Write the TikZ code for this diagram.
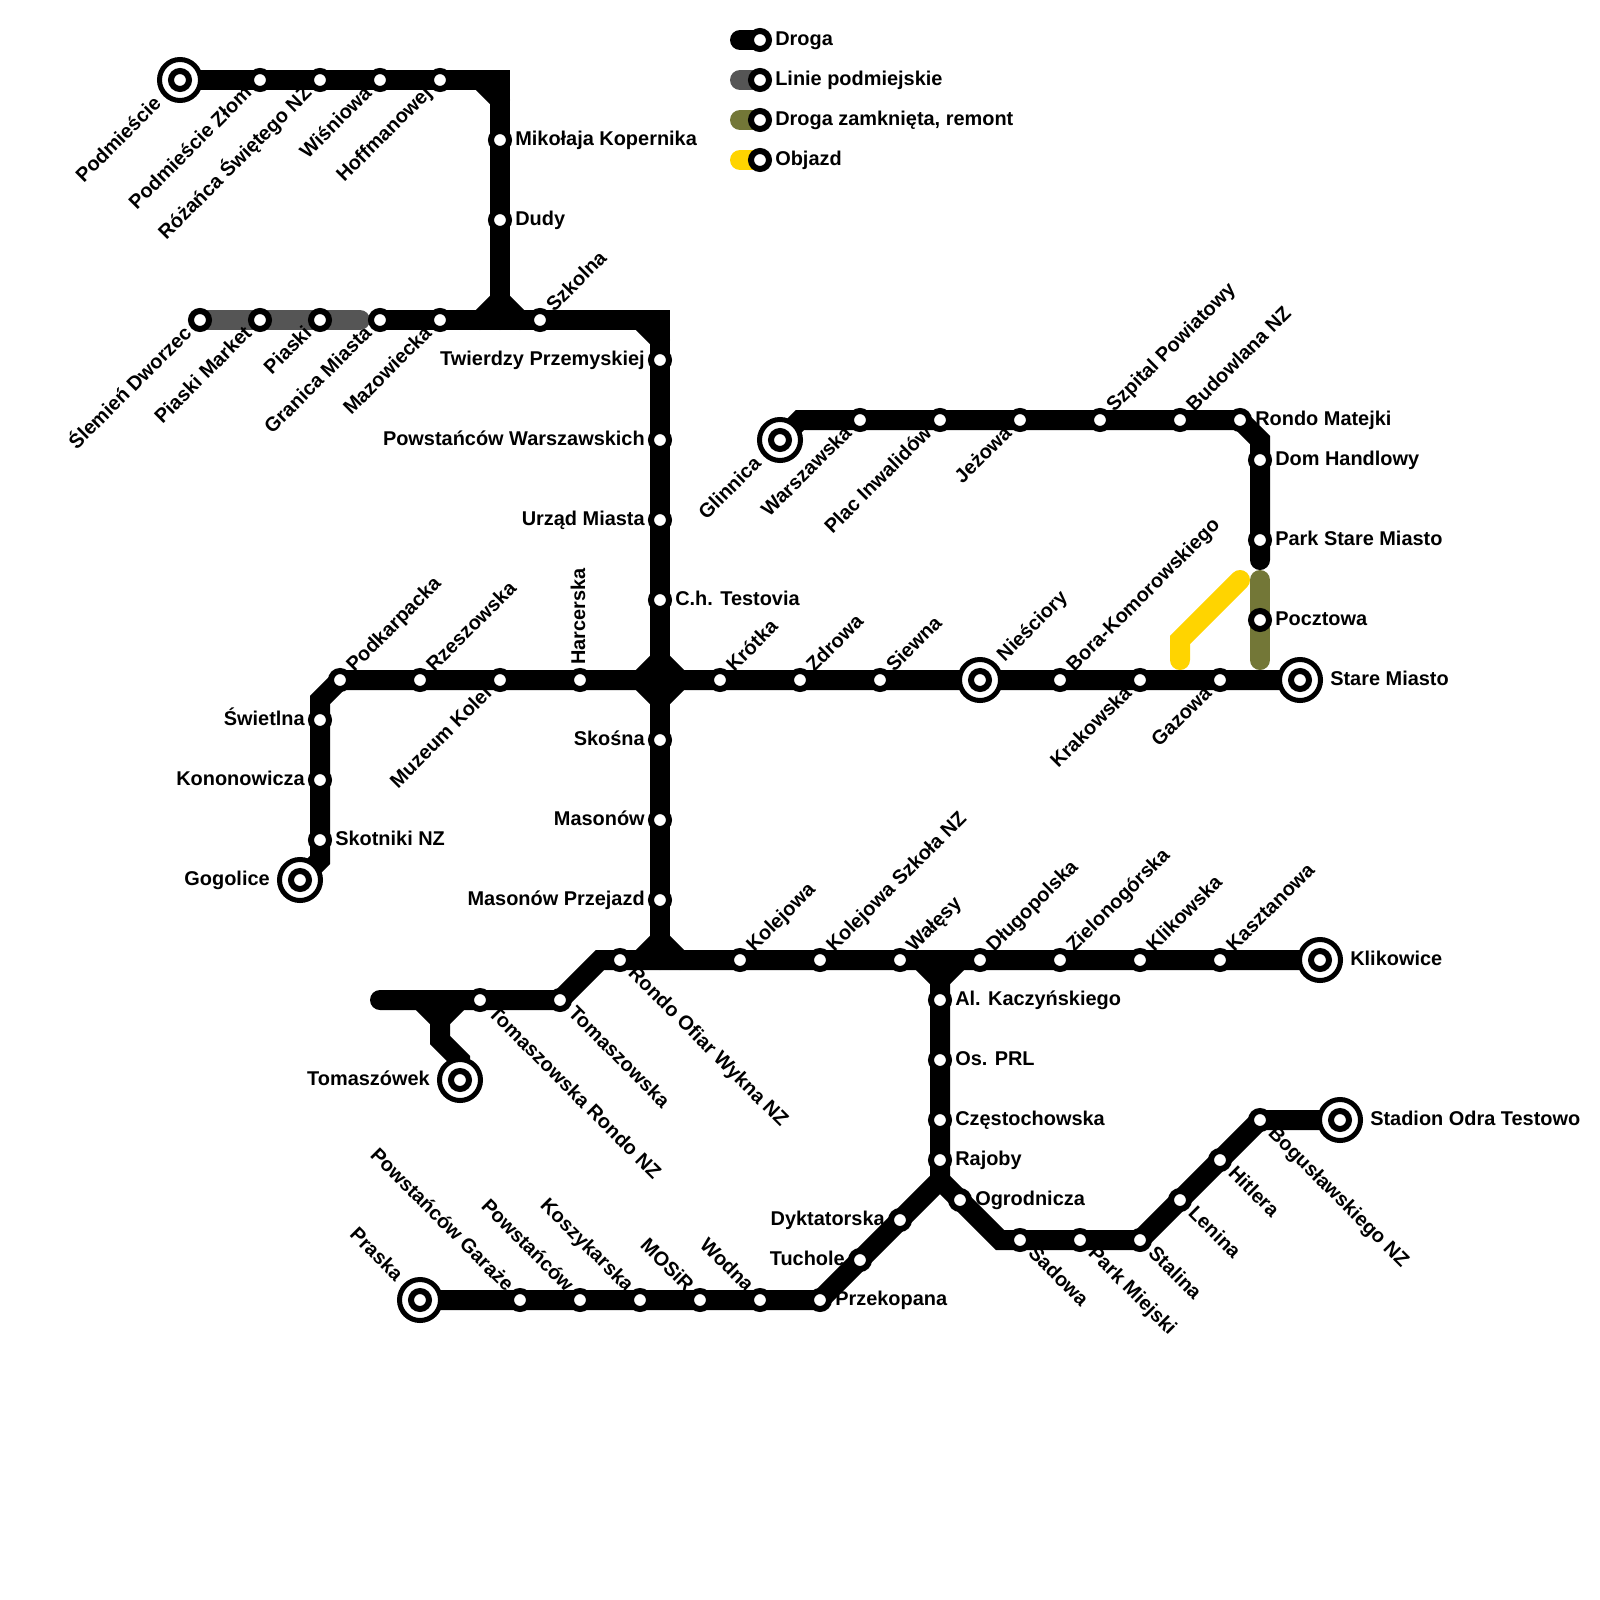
\documentclass[tikz,border=0pt]{standalone}
\usepackage{xcolor}
\usepackage{fontspec}
\setmainfont{Liberation Sans}
\usetikzlibrary{backgrounds}
\definecolor{mygrey}{RGB}{85,85,85}
\definecolor{myolive}{RGB}{115,119,55}
\definecolor{myyellow}{RGB}{255,212,0}
\tikzset{
  stop/.style={circle, draw=black, fill=white, line width=0.15cm,
    minimum size=0.45cm, inner sep=0pt, outer sep=0pt},
  hub/.style={circle, draw=black, fill=white, line width=0.125cm,
    minimum size=1.025cm, inner sep=0pt, outer sep=0pt, label={[stop]center:}},
  road/.style={line width=0.5cm, line cap=round, line join=miter, color=black},
  greyroad/.style={road, color=mygrey},
  oliveroad/.style={road, color=myolive},
  yellowroad/.style={road, color=myyellow},
  lbl/.style={font=\bfseries\fontsize{14.17pt}{16pt}\selectfont, inner sep=0pt, text=black},
  lble/.style={lbl, xshift=0.375cm, yshift=-0.125cm, anchor=base west},
  lblw/.style={lbl, xshift=-0.375cm, yshift=-0.125cm, anchor=base east},
  lblne/.style={lbl, rotate=45, xshift=0.375cm, yshift=-0.125cm, anchor=base west},
  lblsw/.style={lbl, rotate=45, xshift=-0.375cm, yshift=-0.125cm, anchor=base east},
  lblse/.style={lbl, rotate=-45, xshift=0.375cm, yshift=-0.125cm, anchor=base west},
  lblnw/.style={lbl, rotate=-45, xshift=-0.375cm, yshift=-0.125cm, anchor=base east},
  lbln/.style={lbl, rotate=90, xshift=0.375cm, yshift=-0.125cm, anchor=base west},
  farout/.style={xshift=0.375cm},
  farin/.style={xshift=-0.375cm}
}

\begin{document}
\begin{tikzpicture}[x=0.025cm, y=-0.025cm]
  \useasboundingbox (0,0) rectangle (1600,1600);

  % Legend
  \coordinate (legA) at (740,40);
  \coordinate (legB) at (740,80);
  \coordinate (legC) at (740,120);
  \coordinate (legD) at (740,160);
  \node[stop] (droga) at (760,40) {};
  \node[lble] (tdroga) at (droga) {Droga};
  \node[stop] (linie) at (760,80) {};
  \node[lble] (tlinie) at (linie) {Linie podmiejskie};
  \node[stop] (remont) at (760,120) {};
  \node[lble] (tremont) at (remont) {Droga zamknięta, remont};
  \node[stop] (objazd) at (760,160) {};
  \node[lble] (tobjazd) at (objazd) {Objazd};

  % Top line
  \node[hub] (podmiescie) at (180,80) {};
  \node[lblsw, farin] (tpodmiescie) at (podmiescie) {Podmieście};
  \node[stop] (zlom) at (260,80) {};
  \node[lblsw] (tzlom) at (zlom) {Podmieście Złom};
  \node[stop] (rozanca) at (320,80) {};
  \node[lblsw] (trozanca) at (rozanca) {Różańca Świętego NZ};
  \node[stop] (wisniowa) at (380,80) {};
  \node[lblsw] (twisniowa) at (wisniowa) {Wiśniowa};
  \node[stop] (hoffmanowej) at (440,80) {};
  \node[lblsw] (thoffmanowej) at (hoffmanowej) {Hoffmanowej};
  \node[stop] (kopernika) at (500,140) {};
  \node[lble] (tkopernika) at (kopernika) {Mikołaja Kopernika};
  \node[stop] (dudy) at (500,220) {};
  \node[lble] (tdudy) at (dudy) {Dudy};

  % Second line
  \node[stop] (slemien) at (200,320) {};
  \node[lblsw] (tslemien) at (slemien) {Ślemień Dworzec};
  \node[stop] (market) at (260,320) {};
  \node[lblsw] (tmarket) at (market) {Piaski Market};
  \node[stop] (piaski) at (320,320) {};
  \node[lblsw] (tpiaski) at (piaski) {Piaski};
  \node[stop] (granica) at (380,320) {};
  \node[lblsw] (tgranica) at (granica) {Granica Miasta};
  \node[stop] (mazowiecka) at (440,320) {};
  \node[lblsw] (tmazowiecka) at (mazowiecka) {Mazowiecka};
  \node[stop] (szkolna) at (540,320) {};
  \node[lblne] (tszkolna) at (szkolna) {Szkolna};
  \node[stop] (twierdzy) at (660,360) {};
  \node[lblw] (ttwierdzy) at (twierdzy) {Twierdzy Przemyskiej};
  \node[stop] (powstancow) at (660,440) {};
  \node[lblw] (tpowstancow) at (powstancow) {Powstańców Warszawskich};
  \node[stop] (urzad) at (660,520) {};
  \node[lblw] (turzad) at (urzad) {Urząd Miasta};
  \node[stop] (testovia) at (660,600) {};
  \node[lble] (ttestovia) at (testovia) {C.h. Testovia};
  \node[stop] (skosna) at (660,740) {};
  \node[lblw] (tskosna) at (skosna) {Skośna};
  \node[stop] (masonow) at (660,820) {};
  \node[lblw] (tmasonow) at (masonow) {Masonów};
  \node[stop] (przejazd) at (660,900) {};
  \node[lblw] (tprzejazd) at (przejazd) {Masonów Przejazd};

  % Upper right line
  \node[hub] (glinnica) at (780,440) {};
  \node[lblsw, farin] (tglinnica) at (glinnica) {Glinnica};
  \node[stop] (warszawska) at (860,420) {};
  \node[lblsw] (twarszawska) at (warszawska) {Warszawska};
  \node[stop] (inwalidow) at (940,420) {};
  \node[lblsw] (tinwalidow) at (inwalidow) {Plac Inwalidów};
  \node[stop] (jezowa) at (1020,420) {};
  \node[lblsw] (tjezowa) at (jezowa) {Jeżowa};
  \node[stop] (szpital) at (1100,420) {};
  \node[lblne] (tszpital) at (szpital) {Szpital Powiatowy};
  \node[stop] (budowlana) at (1180,420) {};
  \node[lblne] (tbudowlana) at (budowlana) {Budowlana NZ};
  \node[stop] (matejki) at (1240,420) {};
  \node[lble] (tmatejki) at (matejki) {Rondo Matejki};
  \node[stop] (handlowy) at (1260,460) {};
  \node[lble] (thandlowy) at (handlowy) {Dom Handlowy};
  \node[stop] (park) at (1260,540) {};
  \node[lble] (tpark) at (park) {Park Stare Miasto};
  \node[stop] (pocztowa) at (1260,620) {};
  \node[lble] (tpocztowa) at (pocztowa) {Pocztowa};

  % Middle line
  \node[hub] (gogolice) at (300,880) {};
  \node[lblw, farin] (tgogolice) at (gogolice) {Gogolice};
  \node[stop] (skotniki) at (320,840) {};
  \node[lble] (tskotniki) at (skotniki) {Skotniki NZ};
  \node[stop] (kononowicza) at (320,780) {};
  \node[lblw] (tkononowicza) at (kononowicza) {Kononowicza};
  \node[stop] (swietlna) at (320,720) {};
  \node[lblw] (tswietlna) at (swietlna) {Świetlna};
  \node[stop] (podkarpacka) at (340,680) {};
  \node[lblne] (tpodkarpacka) at (podkarpacka) {Podkarpacka};
  \node[stop] (rzeszowska) at (420,680) {};
  \node[lblne] (trzeszowska) at (rzeszowska) {Rzeszowska};
  \node[stop] (muzeum) at (500,680) {};
  \node[lblsw] (tmuzeum) at (muzeum) {Muzeum Kolei};
  \node[stop] (harcerska) at (580,680) {};
  \node[lbln] (tharcerska) at (harcerska) {Harcerska};
  \node[stop] (krotka) at (720,680) {};
  \node[lblne] (tkrotka) at (krotka) {Krótka};
  \node[stop] (zdrowa) at (800,680) {};
  \node[lblne] (tzdrowa) at (zdrowa) {Zdrowa};
  \node[stop] (siewna) at (880,680) {};
  \node[lblne] (tsiewna) at (siewna) {Siewna};
  \node[hub] (niesciory) at (980,680) {};
  \node[lblne, farout] (tniesciory) at (niesciory) {Nieściory};
  \node[stop] (bora) at (1060,680) {};
  \node[lblne] (tbora) at (bora) {Bora-Komorowskiego};
  \node[stop] (krakowska) at (1140,680) {};
  \node[lblsw] (tkrakowska) at (krakowska) {Krakowska};
  \node[stop] (gazowa) at (1220,680) {};
  \node[lblsw] (tgazowa) at (gazowa) {Gazowa};
  \node[hub] (staremiasto) at (1300,680) {};
  \node[lble, farout] (tstaremiasto) at (staremiasto) {Stare Miasto};

  % Lower line
  \node[hub] (tomaszowek) at (460,1080) {};
  \node[lblw, farin] (ttomaszowek) at (tomaszowek) {Tomaszówek};
  \node[stop] (rondotom) at (480,1000) {};
  \node[lblse] (trondotom) at (rondotom) {Tomaszowska Rondo NZ};
  \node[stop] (tomaszowska) at (560,1000) {};
  \node[lblse] (ttomaszowska) at (tomaszowska) {Tomaszowska};
  \node[stop] (ofiar) at (620,960) {};
  \node[lblse] (tofiar) at (ofiar) {Rondo Ofiar Wykna NZ};
  \node[stop] (kolejowa) at (740,960) {};
  \node[lblne] (tkolejowa) at (kolejowa) {Kolejowa};
  \node[stop] (szkola) at (820,960) {};
  \node[lblne] (tszkola) at (szkola) {Kolejowa Szkoła NZ};
  \node[stop] (walesy) at (900,960) {};
  \node[lblne] (twalesy) at (walesy) {Wałęsy};
  \node[stop] (dlugopolska) at (980,960) {};
  \node[lblne] (tdlugopolska) at (dlugopolska) {Długopolska};
  \node[stop] (zielonogorska) at (1060,960) {};
  \node[lblne] (tzielonogorska) at (zielonogorska) {Zielonogórska};
  \node[stop] (klikowska) at (1140,960) {};
  \node[lblne] (tklikowska) at (klikowska) {Klikowska};
  \node[stop] (kasztanowa) at (1220,960) {};
  \node[lblne] (tkasztanowa) at (kasztanowa) {Kasztanowa};
  \node[hub] (klikowice) at (1320,960) {};
  \node[lble, farout] (tklikowice) at (klikowice) {Klikowice};

  % South branch
  \node[stop] (kaczynskiego) at (940,1000) {};
  \node[lble] (tkaczynskiego) at (kaczynskiego) {Al. Kaczyńskiego};
  \node[stop] (prl) at (940,1060) {};
  \node[lble] (tprl) at (prl) {Os. PRL};
  \node[stop] (czestochowska) at (940,1120) {};
  \node[lble] (tczestochowska) at (czestochowska) {Częstochowska};
  \node[stop] (rajoby) at (940,1160) {};
  \node[lble] (trajoby) at (rajoby) {Rajoby};
  \node[stop] (dyktatorska) at (900,1220) {};
  \node[lblw] (tdyktatorska) at (dyktatorska) {Dyktatorska};
  \node[stop] (tuchole) at (860,1260) {};
  \node[lblw] (ttuchole) at (tuchole) {Tuchole};
  \node[stop] (przekopana) at (820,1300) {};
  \node[lble] (tprzekopana) at (przekopana) {Przekopana};
  \node[stop] (wodna) at (760,1300) {};
  \node[lblnw] (twodna) at (wodna) {Wodna};
  \node[stop] (mosir) at (700,1300) {};
  \node[lblnw] (tmosir) at (mosir) {MOSiR};
  \node[stop] (koszykarska) at (640,1300) {};
  \node[lblnw] (tkoszykarska) at (koszykarska) {Koszykarska};
  \node[stop] (powst) at (580,1300) {};
  \node[lblnw] (tpowst) at (powst) {Powstańców};
  \node[stop] (garaze) at (520,1300) {};
  \node[lblnw] (tgaraze) at (garaze) {Powstańców Garaże};
  \node[hub] (praska) at (420,1300) {};
  \node[lblnw, farin] (tpraska) at (praska) {Praska};
  \node[stop] (ogrodnicza) at (960,1200) {};
  \node[lble] (togrodnicza) at (ogrodnicza) {Ogrodnicza};
  \node[stop] (sadowa) at (1020,1240) {};
  \node[lblse] (tsadowa) at (sadowa) {Sadowa};
  \node[stop] (miejski) at (1080,1240) {};
  \node[lblse] (tmiejski) at (miejski) {Park Miejski};
  \node[stop] (stalina) at (1140,1240) {};
  \node[lblse] (tstalina) at (stalina) {Stalina};
  \node[stop] (lenina) at (1180,1200) {};
  \node[lblse] (tlenina) at (lenina) {Lenina};
  \node[stop] (hitlera) at (1220,1160) {};
  \node[lblse] (thitlera) at (hitlera) {Hitlera};
  \node[stop] (boguslawskiego) at (1260,1120) {};
  \node[lblse] (tboguslawskiego) at (boguslawskiego) {Bogusławskiego NZ};
  \node[hub] (stadion) at (1340,1120) {};
  \node[lble, farout] (tstadion) at (stadion) {Stadion Odra Testowo};

  % Bends and junctions
  \coordinate (cornerA) at (500,80);
  \coordinate (juncA) at (500,320);
  \coordinate (cornerB) at (660,320);
  \coordinate (cross) at (660,680);
  \coordinate (juncB) at (660,960);
  \coordinate (juncC) at (940,960);
  \coordinate (split) at (940,1180);
  \coordinate (juncD) at (440,1000);

  \begin{scope}[on background layer]
    % Legend pills
    \draw[road] (legA) -- (droga.center);
    \draw[greyroad] (legB) -- (linie.center);
    \draw[oliveroad] (legC) -- (remont.center);
    \draw[yellowroad] (legD) -- (objazd.center);

    % Top line
    \draw[road] (podmiescie.center) -- (cornerA) -- (juncA);
    \draw[road] (cornerA) ++(-20,0) -- ++(20,20);

    % Second line
    \draw[greyroad] (slemien.center) -- ++(160,0);
    \draw[road] (granica.center) -- (cornerB) -- (juncB);
    \draw[road] (juncA) ++(-20,0) -- ++(20,-20) -- ++(20,20);
    \draw[road] (cornerB) ++(-20,0) -- ++(20,20);

    % Cross and middle line
    \draw[road] (cross) ++(-20,0) -- ++(20,-20) -- ++(20,20) -- ++(-20,20) -- cycle;
    \draw[road] (gogolice.center) -- ++(20,-20) -- ++(0,-160) -- (podkarpacka.center) -- (staremiasto.center);

    % Upper right line
    \draw[road] (glinnica.center) -- ++(20,-20) -- (matejki.center) -- ++(20,20) -- (park.center) -- ++(0,20);
    \draw[oliveroad] (pocztowa.center) ++(0,-40) -- ++(0,80);
    \draw[yellowroad] (1240,580) -- (1180,640) -- (1180,660);

    % Lower line
    \draw[road] (juncD) ++(-60,0) -- (tomaszowska.center) -- ++(40,-40) -- (klikowice.center);
    \draw[road] (juncD) ++(-20,0) -- ++(20,20) -- ++(20,-20);
    \draw[road] (juncD) ++(0,20) -- ++(0,20) -- ++(20,20) -- (tomaszowek.center);
    \draw[road] (juncB) ++(-20,0) -- ++(20,-20) -- ++(20,20);
    \draw[road] (juncC) ++(-20,0) -- ++(20,20) -- ++(20,-20);

    % South branch
    \draw[road] (juncC) -- (split) -- (przekopana.center) -- (praska.center);
    \draw[road] (split) -- ++(60,60) -- (stalina.center) -- (boguslawskiego.center) -- (stadion.center);
  \end{scope}
\end{tikzpicture}
\end{document}
